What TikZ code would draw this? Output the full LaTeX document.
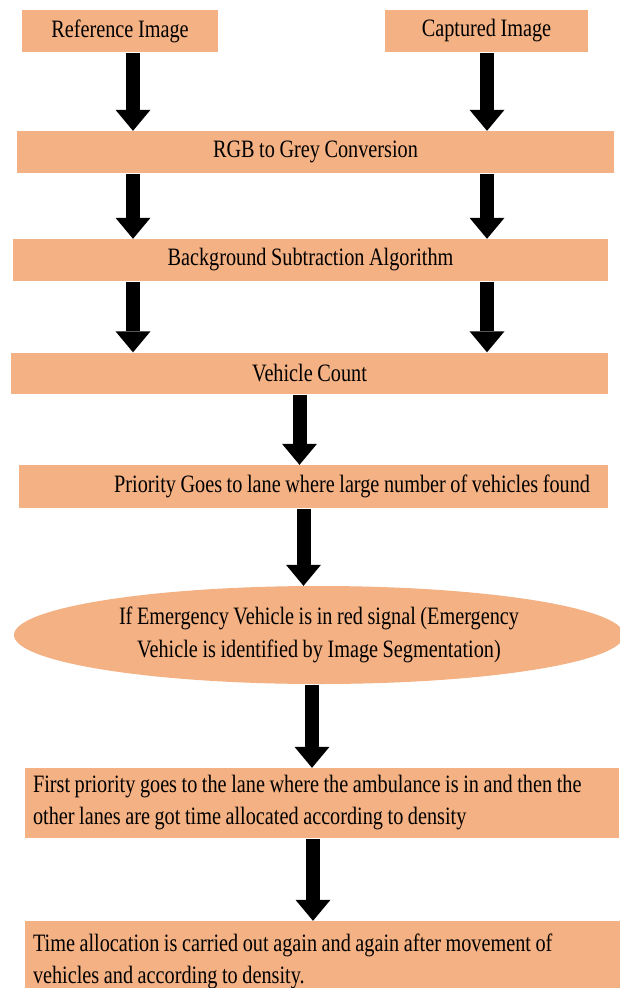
\documentclass[tikz,border=0pt]{standalone}
\usepackage{fontspec}
\setmainfont{Liberation Serif}[FakeStretch=0.81,WordSpace=0.9]
\usetikzlibrary{arrows.meta,shapes.geometric,calc}
\definecolor{cmelon}{HTML}{F4B183}
\tikzset{
  caja/.style={rectangle, fill=cmelon, inner sep=0pt, align=center,
    font=\fontsize{25}{32}\selectfont},
  cajat/.style={rectangle, fill=cmelon, inner xsep=8pt, inner ysep=0pt, align=flush left,
    font=\fontsize{25}{32}\selectfont},
  elipse/.style={ellipse, fill=cmelon, inner sep=0pt, align=center,
    font=\fontsize{25}{33}\selectfont},
  flecha/.style={-{Triangle[width=35pt,length=21pt,line width=0pt]}, line width=14pt,
    draw=black, shorten <=1pt},
}
\begin{document}
\begin{tikzpicture}[x=1pt,y=-1pt]
  \fill[white] (0,0) rectangle (619,988);
  \useasboundingbox (0,0) rectangle (619,988);
  % entradas
  \node[caja, minimum width=196pt, minimum height=42pt] (ref) at (120,31) {Reference Image};
  \node[caja, minimum width=203pt, minimum height=42pt] (cap) at (486.5,31) {Captured Image};
  % procesado
  \node[caja, minimum width=597pt, minimum height=42pt] (rgb) at (315.5,152) {RGB to Grey Conversion};
  \node[caja, minimum width=595pt, minimum height=42pt] (bg) at (310.5,260) {Background Subtraction Algorithm};
  \node[caja, minimum width=597pt, minimum height=41pt] (vc) at (309.5,373) {Vehicle Count};
  \node[caja, text width=553pt, inner xsep=18pt, minimum height=43pt, align=flush right] (pri) at (313.5,486.5)
    {Priority Goes to lane where large number of vehicles found};
  \node[elipse, minimum width=610pt, minimum height=98pt] (ell) at (319,635)
    {If Emergency Vehicle is in red signal (Emergency\\Vehicle is identified by Image Segmentation)};
  \node[cajat, text width=578pt, minimum height=70pt] (fp) at (322,803)
    {First priority goes to the lane where the ambulance is in and then the\\other lanes are got time allocated according to density};
  \node[cajat, text width=584pt, minimum height=80pt] (ta) at (325,961)
    {Time allocation is carried out again and again after movement of\\vehicles and according to density.};
  % columnas de flechas
  \coordinate (colI) at (133,0);
  \coordinate (colD) at (487,0);
  \draw[flecha] (ref.south -| colI) -- (rgb.north -| colI);
  \draw[flecha] (cap.south -| colD) -- (rgb.north -| colD);
  \draw[flecha] (rgb.south -| colI) -- (bg.north -| colI);
  \draw[flecha] (rgb.south -| colD) -- (bg.north -| colD);
  \draw[flecha] (bg.south -| colI) -- (vc.north -| colI);
  \draw[flecha] (bg.south -| colD) -- (vc.north -| colD);
  \draw[flecha] ([xshift=-10pt]vc.south) -- ([xshift=-10pt]vc.south |- pri.north);
  \draw[flecha] ([xshift=-10pt]pri.south) -- ([xshift=-10pt]pri.south |- ell.north);
  \draw[flecha] ([xshift=-7pt]ell.south) -- ([xshift=-7pt]ell.south |- fp.north);
  \draw[flecha] ([xshift=-9pt]fp.south) -- ([xshift=-9pt]fp.south |- ta.north);
\end{tikzpicture}
\end{document}
